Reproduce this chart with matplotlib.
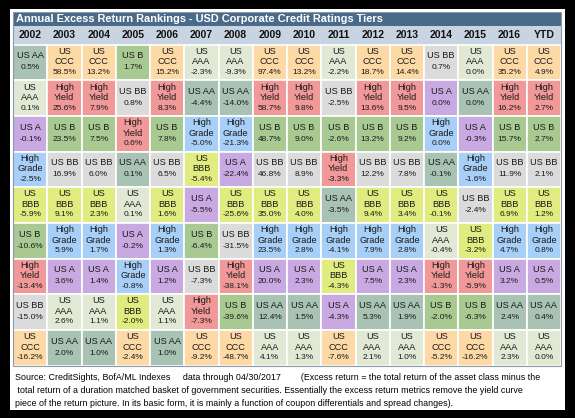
import matplotlib
matplotlib.use('Agg')
import matplotlib.pyplot as plt
from matplotlib.patches import Rectangle

# years across the top
years = ['2002', '2003', '2004', '2005', '2006', '2007', '2008', '2009',
         '2010', '2011', '2012', '2013', '2014', '2015', '2016', 'YTD']

# ranking of the tiers in each year, best at the top
order = [
    ['AA', 'AAA', 'A', 'HG', 'BBB', 'B', 'HY', 'BB', 'CCC'],
    ['CCC', 'HY', 'B', 'BB', 'BBB', 'HG', 'A', 'AAA', 'AA'],
    ['CCC', 'HY', 'B', 'BB', 'BBB', 'HG', 'A', 'AAA', 'AA'],
    ['B', 'BB', 'HY', 'AA', 'AAA', 'A', 'HG', 'BBB', 'CCC'],
    ['CCC', 'HY', 'B', 'BB', 'BBB', 'HG', 'A', 'AAA', 'AA'],
    ['AAA', 'AA', 'HG', 'BBB', 'A', 'B', 'BB', 'HY', 'CCC'],
    ['AAA', 'AA', 'HG', 'A', 'BBB', 'BB', 'HY', 'B', 'CCC'],
    ['CCC', 'HY', 'B', 'BB', 'BBB', 'HG', 'A', 'AA', 'AAA'],
    ['CCC', 'HY', 'B', 'BB', 'BBB', 'HG', 'A', 'AA', 'AAA'],
    ['AAA', 'BB', 'B', 'HY', 'AA', 'HG', 'BBB', 'A', 'CCC'],
    ['CCC', 'HY', 'B', 'BB', 'BBB', 'HG', 'A', 'AA', 'AAA'],
    ['CCC', 'HY', 'B', 'BB', 'BBB', 'HG', 'A', 'AA', 'AAA'],
    ['BB', 'A', 'HG', 'AA', 'BBB', 'AAA', 'HY', 'B', 'CCC'],
    ['AAA', 'AA', 'A', 'HG', 'BB', 'BBB', 'HY', 'B', 'CCC'],
    ['CCC', 'HY', 'B', 'BB', 'BBB', 'HG', 'A', 'AA', 'AAA'],
    ['CCC', 'HY', 'B', 'BB', 'BBB', 'HG', 'A', 'AA', 'AAA'],
]

# excess returns (%) in the same order
excess = [
    [0.5, 0.1, -0.1, -2.5, -5.9, -10.6, -13.4, -15.0, -16.2],
    [58.5, 25.6, 23.5, 16.9, 9.1, 5.9, 3.6, 2.6, 2.0],
    [13.2, 7.9, 7.5, 6.0, 2.3, 1.7, 1.4, 1.1, 1.0],
    [1.7, 0.8, 0.6, 0.1, 0.1, -0.2, -0.8, -2.0, -2.4],
    [15.2, 8.3, 7.8, 6.5, 1.6, 1.3, 1.2, 1.1, 1.0],
    [-2.3, -4.4, -5.0, -5.4, -5.5, -6.4, -7.3, -7.3, -9.2],
    [-9.3, -14.0, -21.3, -22.4, -25.6, -31.5, -38.1, -39.6, -48.7],
    [97.4, 58.7, 48.7, 46.8, 35.0, 23.5, 20.0, 12.4, 4.1],
    [13.2, 9.8, 9.0, 8.9, 4.0, 2.8, 2.3, 1.5, 1.3],
    [-2.2, -2.5, -2.6, -3.3, -3.5, -4.1, -4.3, -4.3, -7.6],
    [18.7, 13.6, 13.2, 12.2, 9.4, 7.9, 7.5, 5.3, 2.1],
    [14.4, 9.5, 9.2, 7.8, 3.4, 2.8, 2.3, 1.9, 1.0],
    [0.7, 0.0, 0.0, -0.1, -0.1, -0.4, -1.3, -2.0, -5.2],
    [0.0, 0.0, -0.3, -1.6, -2.4, -3.2, -5.9, -6.3, -16.2],
    [35.2, 16.2, 15.7, 11.9, 6.9, 4.7, 3.2, 2.4, 2.3],
    [4.9, 2.7, 2.7, 2.1, 1.2, 0.8, 0.5, 0.4, 0.0],
]

labels = {'AAA': 'US\nAAA', 'AA': 'US AA', 'A': 'US A', 'BBB': 'US\nBBB',
          'BB': 'US BB', 'B': 'US B', 'CCC': 'US\nCCC',
          'HG': 'High\nGrade', 'HY': 'High\nYield'}

colours = {'AAA': '#e1e9d5', 'AA': '#a8c2b3', 'A': '#c9a9e2',
           'BBB': '#e0eb80', 'BB': '#dbdbdb', 'B': '#a9c993',
           'CCC': '#fdd9a6', 'HG': '#a8cff8', 'HY': '#f19999'}

title = 'Annual Excess Return Rankings - USD Corporate Credit Ratings Tiers'
footer = [
    'Source: CreditSights, BofA/ML Indexes     data through 04/30/2017        '
    '(Excess return = the total return of the asset class minus the',
    ' total return of a duration matched basket of government securities. '
    'Essentially the excess return metrics remove the yield curve',
    'piece of the return picture. In its basic form, it is mainly a function '
    'of coupon differentials and spread changes).',
]

cell_font = ['Liberation Sans', 'DejaVu Sans']
narrow_font = ['Liberation Sans Narrow', 'Liberation Sans', 'DejaVu Sans']

W, H = 575, 418
fig = plt.figure(figsize=(W / 100, H / 100), dpi=100, facecolor='black')
ax = fig.add_axes([0, 0, 1, 1])
ax.set_xlim(0, W)
ax.set_ylim(H, 0)
ax.axis('off')

# white card inside the black frame
ax.add_patch(Rectangle((10, 9), 555, 401, facecolor='white', edgecolor='none'))

# table geometry (pixels)
left, right = 13, 561
top_title, top_head, top_cells, bottom = 12, 25.5, 44.5, 365.5
ncol, nrow = len(years), len(order[0])
cw = (right - left) / ncol
rh = (bottom - top_cells) / nrow

# title bar and header strip
ax.add_patch(Rectangle((left, top_title), right - left, top_head - top_title,
                       facecolor='#4a6a8a', edgecolor='none'))
ax.text(left + 3, (top_title + top_head) / 2 + 0.5, title, color='white',
        fontsize=7.9, fontweight='bold', family=cell_font, ha='left', va='center')
ax.add_patch(Rectangle((left, top_head), right - left, top_cells - top_head,
                       facecolor='#c8d4e1', edgecolor='none'))
for j, yr in enumerate(years):
    ax.text(left + (j + 0.5) * cw, (top_head + top_cells) / 2 + 0.5, yr,
            fontsize=7.5, fontweight='bold', family=cell_font,
            ha='center', va='center', color='#111111')

# ranked cells
for j in range(ncol):
    for i in range(nrow):
        tier = order[j][i]
        x0 = left + j * cw
        y0 = top_cells + i * rh
        ax.add_patch(Rectangle((x0, y0), cw, rh, facecolor=colours[tier],
                               edgecolor='white', linewidth=1.2))
        lines = labels[tier].split('\n') + ['%.1f%%' % excess[j][i]]
        n = len(lines)
        step = 10.5 if n == 3 else 12
        cy = y0 + rh / 2 - 0.5
        for k, s in enumerate(lines):
            ax.text(x0 + cw / 2, cy + (k - (n - 1) / 2) * step, s,
                    fontsize=6.6 if k < n - 1 else 6.0, family=cell_font,
                    ha='center', va='center', color='#1a1a1a')

# thin outline round the whole table
ax.add_patch(Rectangle((left, top_title), right - left, bottom - top_title,
                       facecolor='none', edgecolor='#8a98a8', linewidth=0.8))

# footer notes
for k, s in enumerate(footer):
    ax.text(15, 377 + k * 13.5, s, fontsize=6.4, family=narrow_font,
            ha='left', va='center', color='black')

fig.savefig('out.png', dpi=100, facecolor=fig.get_facecolor())
